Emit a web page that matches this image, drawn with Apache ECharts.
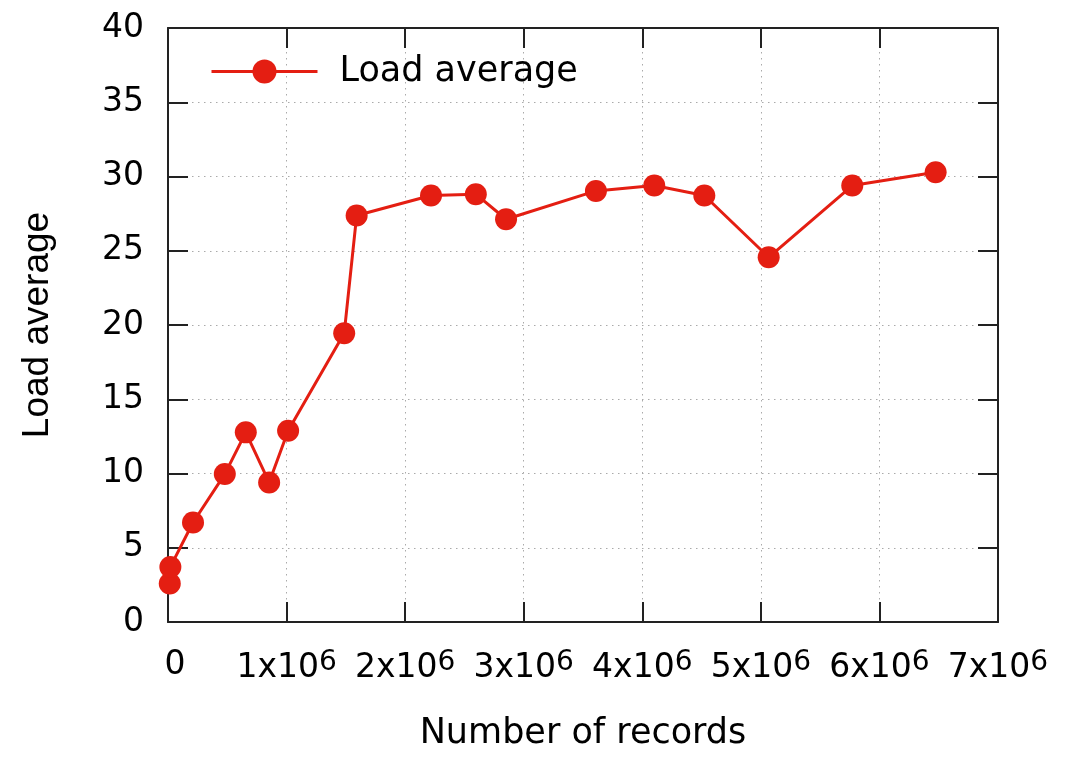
<!DOCTYPE html>
<html>
<head>
<meta charset="utf-8">
<script src="https://cdn.jsdelivr.net/npm/echarts@6/dist/echarts.min.js"></script>
<style>html,body{margin:0;padding:0;background:#fff}#c{width:1079px;height:758px}</style>
</head>
<body>
<div id="c"></div>
<script>
// Data
const records = [0.015e6, 0.02e6, 0.211e6, 0.479e6, 0.656e6, 0.853e6, 1.013e6, 1.486e6, 1.591e6, 2.218e6, 2.596e6, 2.851e6, 3.609e6, 4.101e6, 4.523e6, 5.066e6, 5.771e6, 6.474e6];
const loadAverage = [2.59, 3.71, 6.70, 9.96, 12.77, 9.40, 12.88, 19.44, 27.37, 28.72, 28.81, 27.12, 29.03, 29.39, 28.72, 24.56, 29.39, 30.29];
const xTickLabels = ['0', '1x10^6', '2x10^6', '3x10^6', '4x10^6', '5x10^6', '6x10^6', '7x10^6'];
const yTickLabels = ['0', '5', '10', '15', '20', '25', '30', '35', '40'];
const seriesName = 'Load average';

const RED = '#e41e12';
const AXIS = '#222';
const FONT = 'DejaVu Sans';

const chart = echarts.init(document.getElementById('c'));

function xFmt(v) {
  const i = Math.round(v / 1e6);
  const lab = xTickLabels[i];
  if (lab === undefined) return '';
  if (lab.indexOf('^') < 0) return '{z|' + lab + '}';
  const parts = lab.split('^');
  return '{a|' + parts[0] + '}{s|' + parts[1] + '}';
}
function yFmt(v) {
  const i = Math.round(v / 5);
  return yTickLabels[i] === undefined ? '' : yTickLabels[i];
}

const gridLine = { show: true, lineStyle: { color: '#aaaaaa', width: 1, type: [1.5, 4.5] } };
const axisLineStyle = { show: true, onZero: false, lineStyle: { color: AXIS, width: 2 } };
const tickStyle = { show: true, inside: true, length: 20, lineStyle: { color: AXIS, width: 2 } };

chart.setOption({
  animation: false,
  backgroundColor: '#fff',
  textStyle: { fontFamily: FONT },
  grid: { left: 168, right: 81, top: 28, bottom: 136, containLabel: false },
  legend: {
    show: true,
    left: 205, top: 49,
    itemWidth: 106, itemHeight: 30,
    data: [seriesName],
    lineStyle: { width: 3 },
    textStyle: { fontFamily: FONT, fontSize: 35, color: '#000', padding: [0, 0, 0, 17] }
  },
  xAxis: [{
    type: 'value', min: 0, max: 7e6, interval: 1e6,
    position: 'bottom',
    name: 'Number of records', nameLocation: 'middle', nameGap: 94,
    nameTextStyle: { fontFamily: FONT, fontSize: 35, color: '#000' },
    axisLine: axisLineStyle, axisTick: tickStyle,
    splitLine: gridLine,
    axisLabel: {
      margin: 27, color: '#000', formatter: xFmt,
      rich: {
        z: { fontFamily: FONT, fontSize: 33, color: '#000', padding: [0, 0, 0, 14], verticalAlign: 'bottom' },
        a: { fontFamily: FONT, fontSize: 33, color: '#000', verticalAlign: 'bottom' },
        s: { fontFamily: FONT, fontSize: 28, color: '#000', verticalAlign: 'bottom', padding: [0, 0, 8, 0] }
      }
    }
  }, {
    type: 'value', min: 0, max: 7e6, interval: 1e6,
    position: 'top',
    axisLine: axisLineStyle, axisTick: tickStyle,
    axisLabel: { show: false }, splitLine: { show: false }
  }],
  yAxis: [{
    type: 'value', min: 0, max: 40, interval: 5,
    position: 'left',
    name: 'Load average', nameLocation: 'middle', nameGap: 112,
    nameTextStyle: { fontFamily: 'Liberation Sans', fontSize: 37, color: '#000' },
    axisLine: axisLineStyle, axisTick: tickStyle,
    splitLine: gridLine,
    axisLabel: { margin: 24, color: '#000', fontFamily: FONT, fontSize: 33, formatter: yFmt }
  }, {
    type: 'value', min: 0, max: 40, interval: 5,
    position: 'right',
    axisLine: axisLineStyle, axisTick: tickStyle,
    axisLabel: { show: false }, splitLine: { show: false }
  }],
  series: [{
    name: seriesName,
    type: 'line',
    xAxisIndex: 0, yAxisIndex: 0,
    data: records.map((x, i) => [x, loadAverage[i]]),
    symbol: 'circle', symbolSize: 22,
    lineStyle: { color: RED, width: 3 },
    itemStyle: { color: RED },
    emphasis: { disabled: true },
    clip: false
  }]
});
</script>
</body>
</html>
